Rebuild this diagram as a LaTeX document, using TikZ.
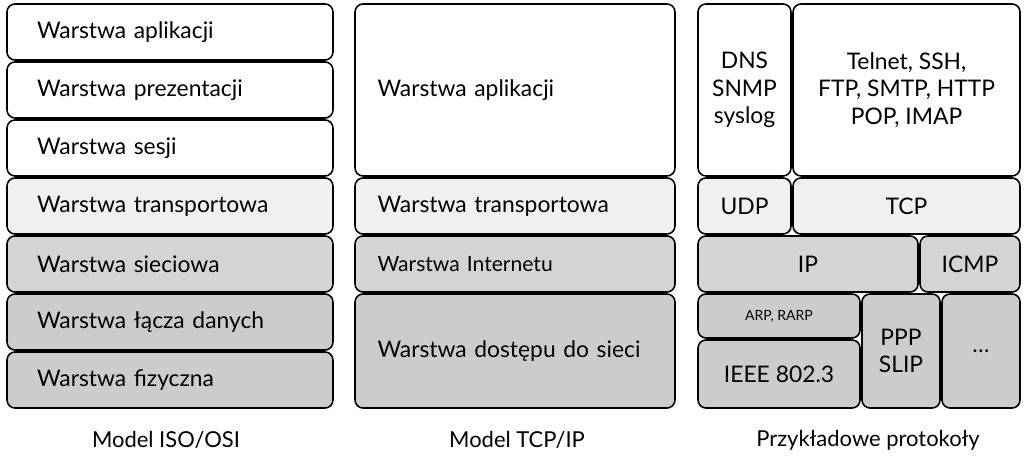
\documentclass[tikz,border=0pt]{standalone}
\usepackage{fontspec}
\setmainfont{Lato}
\begin{document}
\begin{tikzpicture}[x=0.02cm, y=-0.02cm,
  layer/.style={draw, line width=0.9pt, rounded corners=4.5pt, inner sep=0pt, align=center, font=\fontsize{13}{15.5}\selectfont},
  osi/.style={layer, text width=5.32cm, inner xsep=0.6cm, align=left, minimum height=1.12cm},
  tcpip/.style={layer, text width=5.5cm, inner xsep=0.45cm, align=left},
  caption/.style={font=\fontsize{12.5}{15}\selectfont},
  upper/.style={fill=white},
  trans/.style={fill=gray!12},
  net/.style={fill=gray!34},
  link/.style={fill=gray!40}]
\useasboundingbox (0,0) rectangle (1024,465);
% Model ISO/OSI
\node[osi, upper] (o7) at (170,32) {Warstwa aplikacji};
\node[osi, upper] (o6) at (170,90) {Warstwa prezentacji};
\node[osi, upper] (o5) at (170,148) {Warstwa sesji};
\node[osi, trans] (o4) at (170,206) {Warstwa transportowa};
\node[osi, net] (o3) at (170,264) {Warstwa sieciowa};
\node[osi, link] (o2) at (170,322) {Warstwa łącza danych};
\node[osi, link] (o1) at (170,380) {Warstwa fizyczna};
\node[caption] (osicap) at (166,440) {Model ISO/OSI};
% Model TCP/IP
\node[tcpip, upper, minimum height=3.44cm] (t4) at (515,90) {Warstwa aplikacji};
\node[tcpip, trans, minimum height=1.12cm] (t3) at (515,206) {Warstwa transportowa};
\node[tcpip, net, minimum height=1.12cm, font=\fontsize{12}{14}\selectfont] (t2) at (515,264) {Warstwa Internetu};
\node[tcpip, link, minimum height=2.28cm] (t1) at (515,351) {Warstwa dostępu do sieci};
\node[caption] (tcpcap) at (517,440) {Model TCP/IP};
% Przykladowe protokoly
\node[layer, upper, minimum width=1.86cm, minimum height=3.44cm] (dns) at (744.5,90) {DNS\\SNMP\\syslog};
\node[layer, upper, minimum width=4.54cm, minimum height=3.44cm] (telnet) at (906.5,90) {Telnet, SSH,\\FTP, SMTP, HTTP\\POP, IMAP};
\node[layer, trans, minimum width=1.86cm, minimum height=1.12cm] (udp) at (744.5,206) {UDP};
\node[layer, trans, minimum width=4.54cm, minimum height=1.12cm] (tcp) at (906.5,206) {TCP};
\node[layer, net, minimum width=4.4cm, minimum height=1.12cm] (ip) at (808,264) {IP};
\node[layer, net, minimum width=2cm, minimum height=1.12cm] (icmp) at (970,264) {ICMP};
\node[layer, link, minimum width=3.24cm, minimum height=0.88cm, font=\fontsize{8}{10}\selectfont] (arp) at (779,316) {ARP, RARP};
\node[layer, link, minimum width=3.24cm, minimum height=1.36cm] (ieee) at (779,374) {IEEE 802.3};
\node[layer, link, minimum width=1.56cm, minimum height=2.28cm] (ppp) at (901,351) {PPP\\SLIP};
\node[layer, link, minimum width=1.56cm, minimum height=2.28cm] (more) at (981,351) {\dots};
\node[caption] (protcap) at (868,440) {Przykładowe protokoły};
\end{tikzpicture}
\end{document}
